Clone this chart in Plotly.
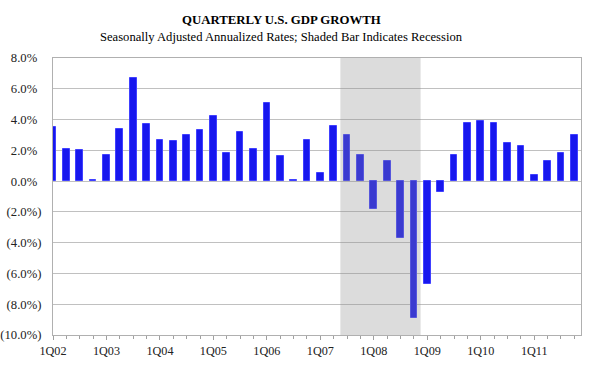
import plotly.graph_objects as go

quarters = [f"{q}Q{y:02d}" for y in range(2, 12) for q in range(1, 5)]
gdp_growth = [3.5, 2.1, 2.0, 0.1,
              1.7, 3.4, 6.7, 3.7,
              2.7, 2.6, 3.0, 3.3,
              4.2, 1.8, 3.2, 2.1,
              5.1, 1.6, 0.1, 2.7,
              0.5, 3.6, 3.0, 1.7,
              -1.8, 1.3, -3.7, -8.9,
              -6.7, -0.7, 1.7, 3.8,
              3.9, 3.8, 2.5, 2.3,
              0.4, 1.3, 1.8, 3.0]
recession_start = "3Q07"
recession_end = "4Q08"
y_ticks = [8, 6, 4, 2, 0, -2, -4, -6, -8, -10]
y_tick_text = ["8.0%", "6.0%", "4.0%", "2.0%", "0.0%",
               "(2.0%)", "(4.0%)", "(6.0%)", "(8.0%)", "(10.0%)"]

idx = list(range(len(quarters)))
label_idx = [i for i, q in enumerate(quarters) if q.startswith("1Q")]

FONT = "Liberation Serif"
PAD = "<span style='color:rgba(0,0,0,0)'>)</span>"
y_text_disp = [t if t.startswith("(") else t + PAD for t in y_tick_text]

fig = go.Figure()
fig.add_trace(go.Bar(
    x=idx, y=gdp_growth, width=0.5,
    marker=dict(color="#1717ee", line=dict(color="#4040ff", width=1)),
    hoverinfo="skip",
))

rs = quarters.index(recession_start)
re_ = quarters.index(recession_end)
fig.add_shape(type="rect", xref="x", yref="y",
              x0=rs - 0.5, x1=re_ + 0.5, y0=-10, y1=8,
              fillcolor="#8a8a8a", opacity=0.3, line=dict(width=0), layer="above")

fig.add_annotation(text="<b>QUARTERLY U.S. GDP GROWTH</b>", xref="paper", yref="paper",
                   x=(281 - 53) / 528, y=(366 - 20 - 31) / 277, xanchor="center", yanchor="middle",
                   showarrow=False, font=dict(family=FONT, size=12.8, color="#000"))
fig.add_annotation(text="Seasonally Adjusted Annualized Rates; Shaded Bar Indicates Recession",
                   xref="paper", yref="paper",
                   x=(281 - 53) / 528, y=(366 - 37 - 31) / 277, xanchor="center", yanchor="middle",
                   showarrow=False, font=dict(family=FONT, size=12.6, color="#000"))

fig.update_layout(
    width=600, height=366,
    margin=dict(l=53, r=19, t=58, b=31),
    paper_bgcolor="white", plot_bgcolor="white",
    showlegend=False,
    bargap=0,
    font=dict(family=FONT, size=13, color="#222"),
    xaxis=dict(
        range=[0, len(quarters) - 0.5],
        automargin=False,
        tickmode="array", tickvals=label_idx,
        ticktext=[quarters[i] for i in label_idx],
        ticks="outside", ticklen=4, tickcolor="#a0a0a0",
        showline=True, linecolor="#b0b0b0", linewidth=1, mirror=True,
        showgrid=False, zeroline=False,
        tickfont=dict(family=FONT, size=12.2, color="#222"),
        minor=dict(tickmode="array", tickvals=idx, ticks="outside",
                   ticklen=3, tickcolor="#a0a0a0", showgrid=False),
    ),
    yaxis=dict(
        range=[-10, 8],
        automargin=False,
        tickmode="array", tickvals=y_ticks, ticktext=y_text_disp,
        showgrid=True, gridcolor="#c0c0c0", gridwidth=1,
        showline=True, linecolor="#b0b0b0", linewidth=1, mirror=True,
        zeroline=False, ticks="", ticklen=0,
        ticklabelstandoff=8,
        tickfont=dict(family=FONT, size=12.7, color="#222"),
    ),
)

fig.write_html("out.html", post_script="document.body.style.margin='0px';",
               config={"displayModeBar": False})
